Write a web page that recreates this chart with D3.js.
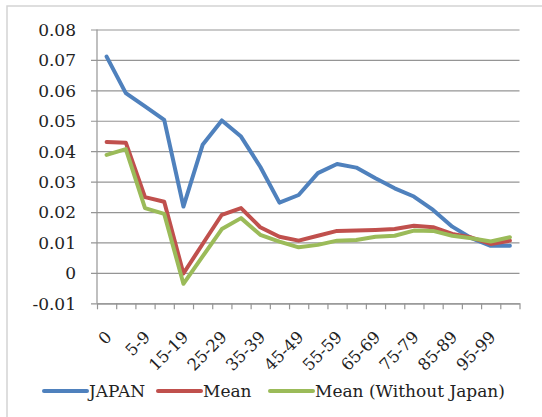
<!DOCTYPE html>
<html>
<head>
<meta charset="utf-8">
<script src="https://cdn.jsdelivr.net/npm/d3@7"></script>
<style>
  html, body { margin: 0; padding: 0; background: #fff; }
  svg { display: block; }
  text { font-family: "DejaVu Serif", "Liberation Serif", serif; fill: #222; }
</style>
</head>
<body>
<svg id="chart" width="542" height="417"></svg>
<script>
// Age groups (one point per group)
const categories = ["0", "1-4", "5-9", "10-14", "15-19", "20-24", "25-29", "30-34",
  "35-39", "40-44", "45-49", "50-54", "55-59", "60-64", "65-69", "70-74",
  "75-79", "80-84", "85-89", "90-94", "95-99", "100+"];

const japan = [0.0711, 0.0591, 0.0547, 0.0503, 0.0218, 0.0421, 0.0501, 0.0448,
  0.0349, 0.0231, 0.0256, 0.0328, 0.0358, 0.0346, 0.0311, 0.0278,
  0.0251, 0.0207, 0.0152, 0.0114, 0.0089, 0.0089];

const mean = [0.0430, 0.0428, 0.0249, 0.0234, -0.0002, 0.0095, 0.0191, 0.0213,
  0.0150, 0.0119, 0.0106, 0.0122, 0.0138, 0.0139, 0.0141, 0.0144,
  0.0155, 0.0150, 0.0128, 0.0116, 0.0095, 0.0106];

const meanWithoutJapan = [0.0388, 0.0407, 0.0213, 0.0194, -0.0036, 0.0054, 0.0144, 0.0180,
  0.0125, 0.0103, 0.0084, 0.0092, 0.0106, 0.0108, 0.0119, 0.0122,
  0.0139, 0.0138, 0.0122, 0.0114, 0.0103, 0.0117];

const seriesNames = ["JAPAN", "Mean", "Mean (Without Japan)"];
const seriesColors = ["#4F81BD", "#C0504D", "#9BBB59"];
const yTicks = [-0.01, 0, 0.01, 0.02, 0.03, 0.04, 0.05, 0.06, 0.07, 0.08];
const yTickLabels = ["-0.01", "0", "0.01", "0.02", "0.03", "0.04", "0.05", "0.06", "0.07", "0.08"];

const svg = d3.select("#chart");

// outer frame
svg.append("path")
  .attr("d", "M7,417 V6 H542")
  .attr("fill", "none")
  .attr("stroke", "#d4d4d4")
  .attr("stroke-width", 1.5);

const plot = { left: 97, right: 519.5, top: 29.5, bottom: 303.3 };

const x = d3.scaleBand().domain(categories).range([plot.left, plot.right]).padding(0);
const xEdge = d3.scaleLinear().domain([0, categories.length]).range([plot.left, plot.right]);
const y = d3.scaleLinear().domain([-0.01, 0.08]).range([plot.bottom, plot.top]);
const cx = c => x(c) + x.bandwidth() / 2;

// horizontal gridlines + y labels
const yAxis = d3.axisLeft(y)
  .tickValues(yTicks)
  .tickSize(-(plot.right - plot.left))
  .tickFormat((d, i) => yTickLabels[i]);

const gy = svg.append("g").attr("transform", `translate(${plot.left},0)`).call(yAxis);
gy.select(".domain").remove();
gy.selectAll(".tick line")
  .attr("x1", -6)
  .attr("stroke", "#959595")
  .attr("stroke-width", 1.2);
gy.selectAll(".tick text")
  .attr("x", -21)
  .attr("dy", "0.35em")
  .style("font-size", "17px")
  .style("font-family", "'DejaVu Serif', serif")
  .attr("fill", "#222");

// vertical axis line
svg.append("line")
  .attr("x1", plot.left).attr("x2", plot.left)
  .attr("y1", plot.top).attr("y2", plot.bottom)
  .attr("stroke", "#959595").attr("stroke-width", 1.2);

// category axis with ticks between groups
const xAxis = d3.axisBottom(xEdge)
  .tickValues(d3.range(categories.length + 1))
  .tickSize(6)
  .tickSizeOuter(0)
  .tickFormat("");
const gx = svg.append("g").attr("transform", `translate(0,${plot.bottom})`).call(xAxis);
gx.selectAll("path, line").attr("stroke", "#959595").attr("stroke-width", 1.2);

// rotated category labels, every other group
svg.append("g").selectAll("text")
  .data(categories.filter((c, i) => i % 2 === 0))
  .join("text")
  .attr("transform", c => `translate(${cx(c) + 2},334) rotate(-45)`)
  .attr("text-anchor", "end")
  .attr("dy", "0.35em")
  .style("font-size", "16.5px")
  .text(c => c);

// series lines
const series = [japan, mean, meanWithoutJapan];
const line = d3.line()
  .x((d, i) => cx(categories[i]))
  .y(d => y(d));

svg.append("g").selectAll("path")
  .data(series)
  .join("path")
  .attr("d", d => line(d))
  .attr("fill", "none")
  .attr("stroke", (d, i) => seriesColors[i])
  .attr("stroke-width", 4)
  .attr("stroke-linejoin", "round")
  .attr("stroke-linecap", "round");

// legend
const legendItems = [
  { name: seriesNames[0], color: seriesColors[0], x: 44 },
  { name: seriesNames[1], color: seriesColors[1], x: 158 },
  { name: seriesNames[2], color: seriesColors[2], x: 270 }
];
const lg = svg.append("g");
legendItems.forEach(it => {
  lg.append("line")
    .attr("x1", it.x).attr("x2", it.x + 43)
    .attr("y1", 391).attr("y2", 391)
    .attr("stroke", it.color)
    .attr("stroke-width", 4)
    .attr("stroke-linecap", "round");
  lg.append("text")
    .attr("x", it.x + 45)
    .attr("y", 391)
    .attr("dy", "0.35em")
    .style("font-size", "17px")
    .text(it.name);
});
</script>
</body>
</html>
